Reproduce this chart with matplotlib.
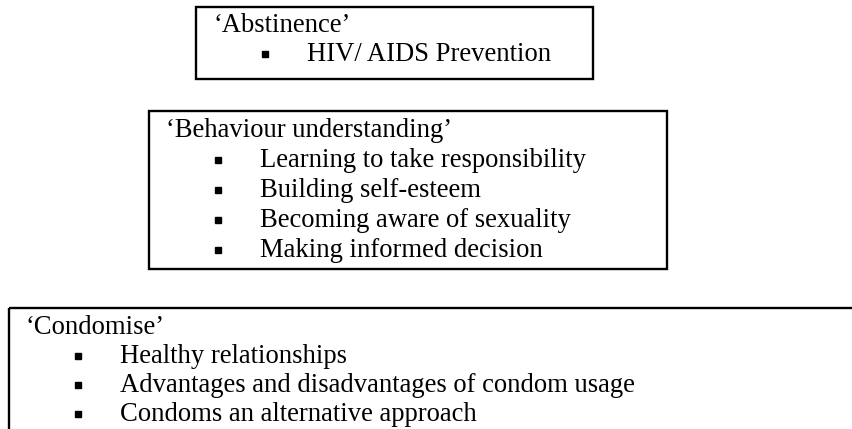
import matplotlib
matplotlib.use("Agg")
import matplotlib.pyplot as plt
from matplotlib.patches import Rectangle

# ---- content ----
titles = ["\u2018Abstinence\u2019", "\u2018Behaviour understanding\u2019", "\u2018Condomise\u2019"]
abstinence_items = ["HIV/ AIDS Prevention"]
behaviour_items = [
    "Learning to take responsibility",
    "Building self-esteem",
    "Becoming aware of sexuality",
    "Making informed decision",
]
condomise_items = [
    "Healthy relationships",
    "Advantages and disadvantages of condom usage",
    "Condoms an alternative approach",
]
items = [abstinence_items, behaviour_items, condomise_items]

# ---- layout (pixels) ----
W, H = 852, 429
box_rects = [(196, 7, 593, 79), (149, 111, 667, 269), (9, 308, 1000, 1000)]
title_y = [25, 130, 327]
line_step = [29, 30, 29]

fig = plt.figure(figsize=(W / 100, H / 100), dpi=100)
ax = fig.add_axes([0, 0, 1, 1])
ax.set_xlim(0, W)
ax.set_ylim(H, 0)
ax.axis("off")

font = dict(family="Liberation Serif", fontsize=19.2, color="black")

for (x0, y0, x1, y1), t, its, ty, step in zip(box_rects, titles, items, title_y, line_step):
    ax.add_patch(Rectangle((x0, y0), x1 - x0, y1 - y0, fill=False,
                           edgecolor="black", linewidth=1.7, clip_on=True))
    ax.text(x0 + 17, ty + 7, t, ha="left", va="baseline", **font)
    for i, s in enumerate(its):
        y = ty + step * (i + 1)
        ax.plot([x0 + 69], [y], marker="s", markersize=5, color="black")
        ax.text(x0 + 111, y + 7, s, ha="left", va="baseline", **font)

fig.savefig("out.png", dpi=100)
